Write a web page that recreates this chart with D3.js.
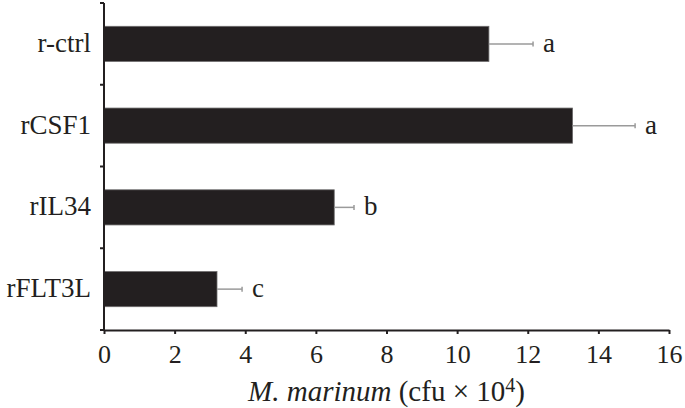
<!DOCTYPE html>
<html>
<head>
<meta charset="utf-8">
<script src="https://cdn.jsdelivr.net/npm/d3@7"></script>
<style>
  html, body { margin: 0; padding: 0; background: #fff; }
  text { font-family: "Liberation Serif", "Times New Roman", serif; fill: #231f20; }
</style>
</head>
<body>
<div id="chart"></div>
<script>
const categories = ["r-ctrl", "rCSF1", "rIL34", "rFLT3L"];
const values = [10.9, 13.27, 6.52, 3.2];
const errors = [1.25, 1.77, 0.56, 0.71];
const letters = ["a", "a", "b", "c"];
const xTicks = [0, 2, 4, 6, 8, 10, 12, 14, 16];

const width = 685;
const height = 408;
const margin = { top: 3, right: 16, bottom: 78, left: 104 };

const svg = d3
	.select("#chart")
	.append("svg")
	.attr("width", width)
	.attr("height", height)
	.style("display", "block");

const x = d3
	.scaleLinear()
	.domain([0, 16])
	.range([margin.left, width - margin.right]);

const y = d3
	.scaleBand()
	.domain(categories)
	.range([margin.top, height - margin.bottom])
	.paddingInner(0.57)
	.paddingOuter(0.285);

// bars
svg
	.append("g")
	.selectAll("rect")
	.data(categories)
	.join("rect")
	.attr("x", x(0))
	.attr("y", (d) => y(d))
	.attr("width", (d, i) => x(values[i]) - x(0))
	.attr("height", y.bandwidth())
	.attr("fill", "#231f20")
	.attr("stroke", "#6d6b6c")
	.attr("stroke-width", 0.8);

// error bars (positive side only)
const gErr = svg
	.append("g")
	.attr("stroke", "#9a9a9a")
	.attr("stroke-width", 1.5);

gErr
	.selectAll("line.err")
	.data(categories)
	.join("line")
	.attr("class", "err")
	.attr("x1", (d, i) => x(values[i]))
	.attr("x2", (d, i) => x(values[i] + errors[i]))
	.attr("y1", (d) => y(d) + y.bandwidth() / 2)
	.attr("y2", (d) => y(d) + y.bandwidth() / 2);

gErr
	.selectAll("line.cap")
	.data(categories)
	.join("line")
	.attr("class", "cap")
	.attr("x1", (d, i) => x(values[i] + errors[i]))
	.attr("x2", (d, i) => x(values[i] + errors[i]))
	.attr("y1", (d) => y(d) + y.bandwidth() / 2 - 2.5)
	.attr("y2", (d) => y(d) + y.bandwidth() / 2 + 2.5);

// significance letters
svg
	.append("g")
	.selectAll("text")
	.data(categories)
	.join("text")
	.attr("x", (d, i) => x(values[i] + errors[i]) + 10)
	.attr("y", (d) => y(d) + y.bandwidth() / 2)
	.attr("dy", "0.3em")
	.style("font-size", "27px")
	.text((d, i) => letters[i]);

// x axis
const xAxis = svg
	.append("g")
	.attr("transform", `translate(0,${height - margin.bottom})`)
	.call(d3.axisBottom(x).tickValues(xTicks).tickSize(4).tickPadding(6).tickSizeOuter(0));

xAxis.select(".domain").attr("stroke", "#231f20").attr("stroke-width", 2);
xAxis.selectAll(".tick line").attr("stroke", "#231f20").attr("stroke-width", 2);
xAxis
	.selectAll(".tick text")
	.attr("dy", null)
	.attr("y", 33)
	.style("font-size", "26px")
	.attr("fill", "#231f20");

// y axis: ticks at band boundaries
const bounds = categories.map((d) => y(d) - (y.step() * y.paddingInner()) / 2);
bounds.push(height - margin.bottom);

const yAxis = svg.append("g");
yAxis
	.append("line")
	.attr("x1", x(0))
	.attr("x2", x(0))
	.attr("y1", margin.top)
	.attr("y2", height - margin.bottom)
	.attr("stroke", "#231f20")
	.attr("stroke-width", 2);

yAxis
	.selectAll("line.tick")
	.data(bounds)
	.join("line")
	.attr("class", "tick")
	.attr("x1", x(0) - 4)
	.attr("x2", x(0))
	.attr("y1", (d) => d)
	.attr("y2", (d) => d)
	.attr("stroke", "#231f20")
	.attr("stroke-width", 2);

yAxis
	.selectAll("text")
	.data(categories)
	.join("text")
	.attr("x", x(0) - 13)
	.attr("y", (d) => y(d) + y.bandwidth() / 2)
	.attr("dy", "0.3em")
	.attr("text-anchor", "end")
	.style("font-size", "27px")
	.text((d) => d);

// axis title
const title = svg
	.append("text")
	.attr("x", (x(0) + x(16)) / 2)
	.attr("y", 401)
	.attr("text-anchor", "middle")
	.style("font-size", "29px");

title.append("tspan").style("font-style", "italic").text("M. marinum");
title.append("tspan").text(" (cfu × 10");
title.append("tspan").attr("dy", "-0.45em").style("font-size", "20px").text("4");
title.append("tspan").attr("dy", "0.3em").text(")");
</script>
</body>
</html>
